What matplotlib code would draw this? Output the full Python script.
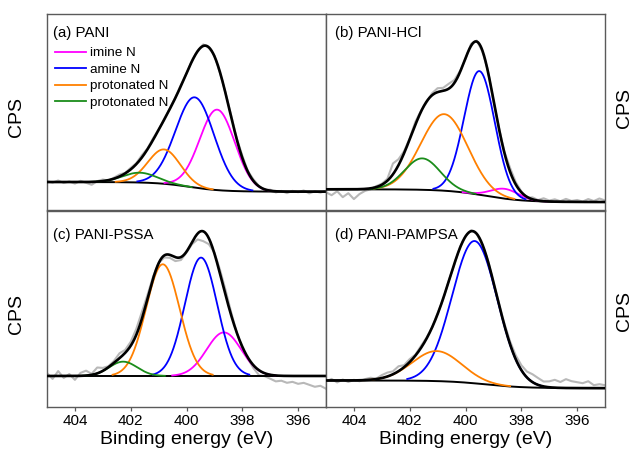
import numpy as np
import matplotlib
matplotlib.use("Agg")
import matplotlib.pyplot as plt

plt.rcParams['font.family'] = ['Liberation Sans', 'DejaVu Sans']

# ---------------- data ----------------
energy_ticks = [404, 402, 400, 398, 396]
xlim = (405, 395)
raw_energy = np.round(np.linspace(405.0, 395.0, 51), 1)   # raw spectrum sampled every 0.2 eV

legend_labels = ['imine N', 'amine N', 'protonated N', 'protonated N']
MAG, BLU, ORA, GRN = '#ff00ff', '#0000ff', '#ff8000', '#1a8c1a'

# panel (a) PANI : components (centre eV, height, sigma eV)
a_title = '(a) PANI'
a_centers = [398.9, 399.7, 400.8, 401.67]
a_heights = [41.0, 46.0, 17.5, 5.0]
a_sigmas = [0.63, 0.69, 0.58, 0.62]
a_colors = [MAG, BLU, ORA, GRN]
a_background = [14.4, 9.5, 399.9, 0.6]   # high-BE level, low-BE level, step centre, step width
a_residual = [0.5, -0.3, 0.8, -0.5, 0.3, -0.8, 0.6, -0.4, -1.5, 0.2,
              0.8, -0.2, 0.5, 1.0, 0.3, 0.8, 0.5, 1.2, 0.4, 0.8,
              0.3, -0.3, 0.4, 0.2, 0.6, -0.2, 0.5, 0.3, 0.8, -0.3,
              0.4, -0.5, 0.3, 0.9, 0.5, 1.2, 0.4, 0.8, 0.2, -0.4,
              0.5, -0.6, 0.3, -0.8, 0.4, -0.3, 0.6, -0.9, 0.2, -0.5, 0.4]

# panel (b) PANI-HCl
b_title = '(b) PANI-HCl'
b_centers = [398.6, 399.5, 400.76, 401.55]
b_heights = [5.0, 63.0, 39.0, 16.0]
b_sigmas = [0.5, 0.55, 0.84, 0.64]
b_colors = [MAG, BLU, ORA, GRN]
b_background = [10.7, 4.2, 399.3, 0.7]
b_residual = [-1.5, -3.0, -1.0, -4.0, -2.0, -5.0, -2.5, -1.0, -0.5, 0.5,
              0.5, 1.0, 5.5, 3.0, 1.0, 0.5, 1.5, 0.5, -0.5, 1.0,
              2.0, 1.5, 2.5, 1.5, 0.5, -0.5, 1.0, 0.5, -0.5, 0.5,
              -0.8, 0.4, 0.8, 2.0, 1.2, 0.5, -0.5, 1.0, 0.3, 1.5,
              0.5, 1.2, 0.3, 1.5, 0.5, 1.0, 0.2, 1.5, 0.5, 1.8, 0.8]

# panel (c) PANI-PSSA
c_title = '(c) PANI-PSSA'
c_centers = [398.66, 399.48, 400.85, 402.27]
c_heights = [22.2, 60.3, 56.9, 7.3]
c_sigmas = [0.62, 0.58, 0.6, 0.5]
c_colors = [MAG, BLU, ORA, GRN]
c_background = [15.7, 15.7, 400.0, 1.0]
c_residual = [1.5, -1.5, 2.5, -1.0, 1.0, -2.0, 1.5, 2.5, 0.5, 3.0,
              1.5, 0.5, 1.0, 2.5, 1.5, 2.0, 3.0, 3.5, 2.0, 1.0,
              0.0, -1.0, -1.5, -2.0, -1.5, -0.5, -1.0, -3.0, -5.0, -3.0,
              0.5, 2.0, 2.5, 1.5, 0.0, -1.0, -0.5, -1.5, -2.5, -1.5,
              -2.0, -3.0, -2.5, -3.5, -3.0, -4.0, -3.5, -4.5, -5.5, -5.0, -6.5]

# panel (d) PANI-PAMPSA
d_title = '(d) PANI-PAMPSA'
d_centers = [399.67, 401.03]
d_heights = [72.5, 15.3]
d_sigmas = [0.81, 0.88]
d_colors = [BLU, ORA]
d_background = [13.4, 9.5, 399.3, 0.7]
d_residual = [-0.5, 0.8, -1.0, 0.5, -0.8, 0.3, -0.5, 0.5, 1.0, 0.2,
              1.5, 2.0, 1.5, 2.5, 1.0, 1.5, 0.5, 1.0, 0.5, 0.0,
              0.5, -0.5, 0.3, -0.5, 0.5, 0.0, 0.5, 0.0, -0.5, 0.5,
              -0.3, 0.5, 1.0, 1.5, 2.0, 2.5, 3.0, 4.0, 3.5, 2.5,
              3.0, 4.0, 3.0, 4.5, 3.5, 3.0, 2.5, 3.5, 1.5, 2.0, 1.5]

panels = [
    (a_title, a_centers, a_heights, a_sigmas, a_colors, a_background, a_residual),
    (b_title, b_centers, b_heights, b_sigmas, b_colors, b_background, b_residual),
    (c_title, c_centers, c_heights, c_sigmas, c_colors, c_background, c_residual),
    (d_title, d_centers, d_heights, d_sigmas, d_colors, d_background, d_residual),
]

# ---------------- helpers ----------------
def background(x, p):
    hi, lo, c, w = p
    return lo + (hi - lo) / (1.0 + np.exp(-(x - c) / w))

def gauss(x, c, h, s):
    return h * np.exp(-(x - c) ** 2 / (2 * s ** 2))

# ---------------- figure ----------------
W, H = 635, 453
fig = plt.figure(figsize=(W / 100, H / 100), dpi=100)

def fx(px): return px / W
def fy(py): return 1 - py / H

left_x = [47, 326]
top_y = [14, 210.5]
pw = 279
ph = 196.3

spine_col = '#5a5a5a'
xfit = np.linspace(405, 395, 801)

for i, (title, cen, hei, sig, cols, bgp, resid) in enumerate(panels):
    row, col = divmod(i, 2)
    x0 = left_x[col]
    y0 = top_y[row]
    ax = fig.add_axes([fx(x0), fy(y0 + ph), pw / W, ph / H])
    ax.set_xlim(*xlim)
    ax.set_ylim(0, 100)

    bg = background(xfit, bgp)
    env = bg.copy()
    for c, h, s in zip(cen, hei, sig):
        env += gauss(xfit, c, h, s)

    # raw data
    bg_raw = background(raw_energy, bgp)
    env_raw = bg_raw.copy()
    for c, h, s in zip(cen, hei, sig):
        env_raw += gauss(raw_energy, c, h, s)
    raw = env_raw + np.array(resid)
    ax.plot(raw_energy, raw, color='#b8b8b8', lw=1.5, zorder=1)

    # background
    ax.plot(xfit, bg, color='black', lw=1.4, zorder=2)

    # components
    handles = []
    for c, h, s, colr in zip(cen, hei, sig, cols):
        m = np.abs(xfit - c) <= 3 * s
        ln, = ax.plot(xfit[m], bg[m] + gauss(xfit[m], c, h, s), color=colr, lw=1.3, zorder=3)
        handles.append(ln)

    # envelope
    ax.plot(xfit, env, color='black', lw=1.9, zorder=4)

    ax.text((53 - 47) / pw if col == 0 else (335 - 326) / pw,
            1 - (33 - 14) / ph if row == 0 else 1 - (235 - 210.5) / ph,
            title, transform=ax.transAxes, fontsize=10.8, va='center', ha='left')

    if i == 0:
        ax.legend(handles, legend_labels, loc='upper left',
                  bbox_to_anchor=((55 - 47) / pw, 1 - (47 - 14) / ph),
                  frameon=False, fontsize=9.7, borderpad=0, borderaxespad=0,
                  handlelength=2.3, handletextpad=0.3, labelspacing=0.3)

    for sp in ax.spines.values():
        sp.set_color(spine_col)
        sp.set_linewidth(1.0)
    ax.set_yticks([])
    ax.set_xticks(energy_ticks)
    if row == 1:
        ax.tick_params(axis='x', direction='out', length=3, width=0.9,
                       color=spine_col, labelsize=11, pad=2)
        ax.set_xlabel('Binding energy (eV)', fontsize=14, labelpad=2)
    else:
        ax.tick_params(axis='x', length=0, labelbottom=False)

    # CPS labels
    cps_x = 17 if col == 0 else 625
    cps_y = [117, 108] if row == 0 else [314, 311]
    fig.text(fx(cps_x), fy(cps_y[col]), 'CPS', rotation=90, fontsize=14,
             ha='center', va='center')

fig.savefig('out.png', dpi=100)
